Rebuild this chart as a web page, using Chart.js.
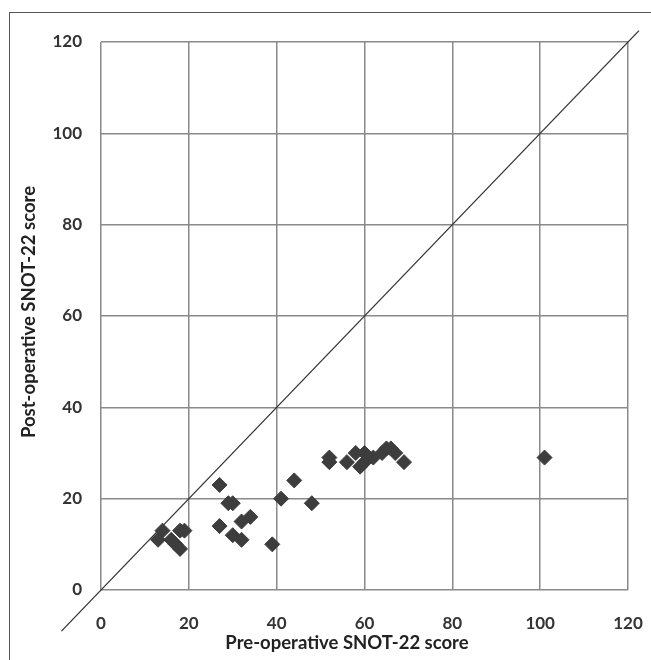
<!DOCTYPE html>
<html>
<head>
<meta charset="utf-8">
<script src="https://cdn.jsdelivr.net/npm/chart.js@4.4.0/dist/chart.umd.min.js"></script>
<style>
  html, body { margin: 0; padding: 0; background: #fff; overflow: hidden; }
  #wrap { position: relative; width: 651px; height: 660px; }
  #frame { position: absolute; left: 9px; top: 12px; width: 700px; height: 700px;
           border-left: 1.5px solid #555; border-top: 1.5px solid #555; }
  #chart { position: absolute; left: 0; top: 0; }
</style>
</head>
<body>
<div id="wrap">
  <div id="frame"></div>
  <canvas id="chart" width="651" height="660"></canvas>
</div>
<script>
// pre-op vs post-op SNOT-22 per patient
var preScores  = [13, 14, 16, 17, 18, 18, 19, 27, 27, 29, 30, 30, 32, 32, 34, 39, 41, 44, 48,
                  52, 52, 56, 58, 59, 60, 60, 61, 62, 64, 65, 66, 67, 69, 101];
var postScores = [11, 13, 11, 10, 13, 9, 13, 23, 14, 19, 19, 12, 11, 15, 16, 10, 20, 24, 19,
                  29, 28, 28, 30, 27, 30, 28, 29, 29, 30, 31, 31, 30, 28, 29];
// line of equality, drawn a little past the axes like the original
var equalLine = [-9, 122.5];
var tickValues = [0, 20, 40, 60, 80, 100, 120];
var xTitle = 'Pre-operative SNOT-22 score';
var yTitle = 'Post-operative SNOT-22 score';

var points = preScores.map(function(v, i) { return { x: v, y: postScores[i] }; });
var linePts = equalLine.map(function(v) { return { x: v, y: v }; });

var fontFam = 'Lato, "Open Sans", sans-serif';

var axisTitles = {
    id: 'axisTitles',
    afterDraw: function(chart) {
        var ctx = chart.ctx;
        ctx.save();
        ctx.fillStyle = '#222';
        ctx.font = 'bold 18.5px ' + fontFam;
        ctx.textAlign = 'center';
        ctx.textBaseline = 'middle';
        ctx.fillText(xTitle, 347, 643);
        ctx.translate(29, 312);
        ctx.rotate(-Math.PI / 2);
        ctx.fillText(yTitle, 0, 0);
        ctx.restore();
    }
};

new Chart(document.getElementById('chart'), {
    type: 'scatter',
    data: {
        datasets: [
            {
                label: 'Patients',
                data: points,
                pointStyle: 'rectRot',
                pointRadius: 7.5,
                pointHoverRadius: 7.5,
                backgroundColor: '#3d3d3d',
                borderColor: '#3d3d3d',
                borderWidth: 1
            },
            {
                type: 'line',
                label: 'Equality',
                data: linePts,
                borderColor: '#333',
                borderWidth: 1.3,
                pointRadius: 0,
                fill: false,
                clip: false
            }
        ]
    },
    options: {
        responsive: false,
        animation: false,
        layout: { padding: { top: 42, right: 23, left: 0, bottom: 0 } },
        plugins: {
            legend: { display: false },
            tooltip: { enabled: false }
        },
        scales: {
            x: {
                type: 'linear',
                min: 0,
                max: 120,
                afterFit: function(s) { s.height = 70; s.paddingLeft = 0; s.paddingRight = 0; },
                afterBuildTicks: function(s) { s.ticks = tickValues.map(function(v) { return { value: v }; }); },
                grid: { color: '#8a8a8a', lineWidth: 1.5, drawTicks: false },
                border: { display: false },
                ticks: { padding: 23, color: '#333', font: { family: fontFam, size: 17, weight: 'bold' } }
            },
            y: {
                type: 'linear',
                min: 0,
                max: 120,
                afterFit: function(s) { s.width = 101; },
                afterBuildTicks: function(s) { s.ticks = tickValues.map(function(v) { return { value: v }; }); },
                grid: { color: '#8a8a8a', lineWidth: 1.5, drawTicks: false },
                border: { display: false },
                ticks: { padding: 19, color: '#333', font: { family: fontFam, size: 17, weight: 'bold' } }
            }
        }
    },
    plugins: [axisTitles]
});
</script>
</body>
</html>
